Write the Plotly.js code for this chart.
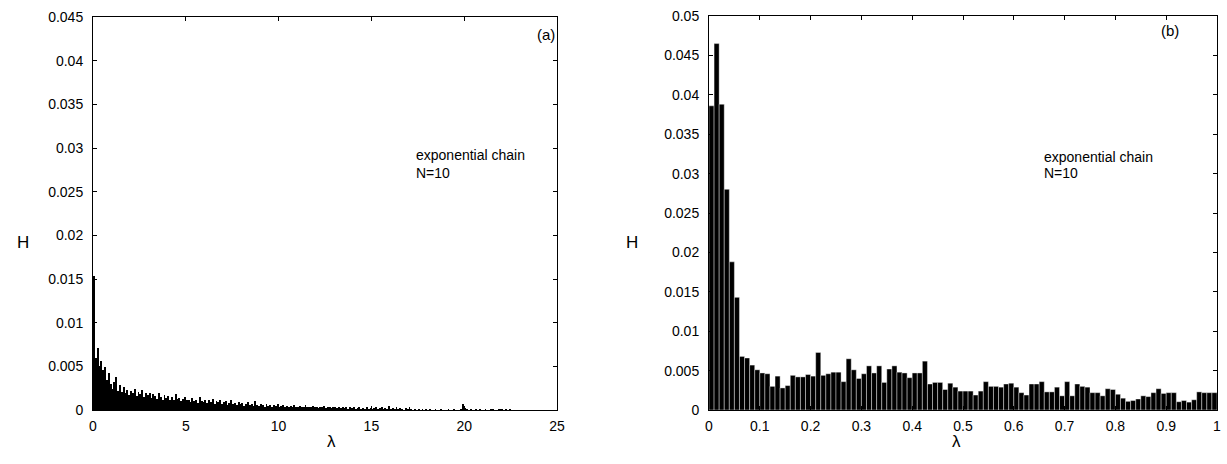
<!DOCTYPE html>
<html><head><meta charset="utf-8">
<script src="https://cdn.plot.ly/plotly-3.0.1.min.js"></script>
<style>html,body{margin:0;padding:0;background:#fff}#chart{width:1227px;height:464px}</style>
</head><body><div id="chart"></div>
<script>
// Panel (a): histogram of lambda, bins of 0.1 starting at 0
const binStartA = 0.05;
const binWidthA = 0.1;
const hA = [
0.0153,0.0059,0.0071,0.0050,0.0056,0.0046,0.0049,0.0034,0.0042,0.0030,
0.0024,0.0032,0.0038,0.0022,0.0029,0.0021,0.0026,0.0020,0.0023,0.0017,
0.0022,0.0019,0.0024,0.0016,0.0021,0.0018,0.0023,0.0015,0.0019,0.0017,
0.0020,0.0014,0.0018,0.0016,0.0013,0.0019,0.0015,0.0012,0.0017,0.0014,
0.0016,0.0012,0.0015,0.0011,0.0018,0.0013,0.0014,0.0010,0.0013,0.0015,
0.0011,0.0012,0.0009,0.0014,0.0010,0.0012,0.0008,0.0015,0.0010,0.0009,
0.0012,0.0008,0.0011,0.0009,0.0013,0.0007,0.0010,0.0009,0.0011,0.0007,
0.0009,0.0010,0.0006,0.0008,0.0012,0.0007,0.0008,0.0006,0.0009,0.0007,
0.0008,0.0005,0.0007,0.0009,0.0006,0.0007,0.0005,0.0010,0.0006,0.0005,
0.0007,0.0006,0.0004,0.0007,0.0005,0.0006,0.0004,0.0006,0.0005,0.0007,
0.0004,0.0005,0.0006,0.0004,0.0005,0.0003,0.0005,0.0004,0.0006,0.0003,
0.0004,0.0005,0.0003,0.0004,0.0006,0.0003,0.0004,0.0003,0.0005,0.0003,
0.0004,0.0002,0.0004,0.0003,0.0005,0.0002,0.0003,0.0004,0.0002,0.0003,
0.0004,0.0002,0.0003,0.0002,0.0004,0.0002,0.0003,0.0001,0.0003,0.0002,
0.0003,0.0001,0.0002,0.0003,0.0001,0.0002,0.0001,0.0003,0.0001,0.0002,
0.0001,0.0002,0.0004,0.0001,0.0002,0.0003,0.0001,0.0002,0.0001,0.0005,
0.0001,0.0002,0.0001,0.0003,0.0001,0.0002,0.0001,0.0000,0.0002,0.0001,
0.0003,0.0001,0.0000,0.0001,0.0000,0.0001,0.0000,0.0001,0.0000,0.0001,
0.0000,0.0001,0.0000,0.0000,0.0001,0.0000,0.0000,0.0001,0.0000,0.0000,
0.0000,0.0001,0.0000,0.0000,0.0001,0.0000,0.0000,0.0000,0.0001,0.0007,
0.0002,0.0001,0.0000,0.0001,0.0000,0.0000,0.0001,0.0000,0.0001,0.0000,
0.0000,0.0001,0.0000,0.0000,0.0001,0.0001,0.0000,0.0000,0.0001,0.0001,
0.0001,0.0000,0.0001,0.0000,0.0001
];
// Panel (b): histogram of lambda in [0,1], bins of 0.01
const binStartB = 0.005;
const binWidthB = 0.01;
const hB = [
0.0386,0.0465,0.0388,0.0280,0.0188,0.0143,0.0068,0.0066,0.0057,0.0051,
0.0047,0.0046,0.0030,0.0043,0.0028,0.0031,0.0044,0.0042,0.0042,0.0045,
0.0043,0.0073,0.0044,0.0046,0.0048,0.0048,0.0036,0.0065,0.0051,0.0040,
0.0046,0.0056,0.0047,0.0056,0.0035,0.0052,0.0056,0.0048,0.0047,0.0041,
0.0047,0.0047,0.0062,0.0033,0.0035,0.0035,0.0026,0.0034,0.0029,0.0024,
0.0024,0.0024,0.0019,0.0024,0.0036,0.0030,0.0030,0.0029,0.0033,0.0034,
0.0029,0.0022,0.0019,0.0033,0.0033,0.0036,0.0023,0.0023,0.0029,0.0018,
0.0036,0.0018,0.0033,0.0030,0.0029,0.0022,0.0022,0.0018,0.0027,0.0026,
0.0020,0.0015,0.0011,0.0012,0.0014,0.0018,0.0017,0.0022,0.0027,0.0021,
0.0022,0.0022,0.00105,0.0012,0.0010,0.0013,0.0023,0.0022,0.0022,0.0022
];
const xTickValsA = [0,5,10,15,20,25];
const yTickValsA = [0,0.005,0.01,0.015,0.02,0.025,0.03,0.035,0.04,0.045];
const xTickValsB = [0,0.1,0.2,0.3,0.4,0.5,0.6,0.7,0.8,0.9,1];
const xTickTextB = ['0','0.1','0.2','0.3','0.4','0.5','0.6','0.7','0.8','0.9','1'];
const yTickValsB = [0,0.005,0.01,0.015,0.02,0.025,0.03,0.035,0.04,0.045,0.05];
const labelSeries = 'exponential chain';
const labelN = 'N=10';

const W = 1227, Hh = 464;
const px = x => x / W;
const py = y => 1 - y / Hh;
const FONT = 'Liberation Sans, Arial, sans-serif';

const traces = [
  {type:'bar', y:hA, x0:binStartA, dx:binWidthA, xaxis:'x', yaxis:'y',
   marker:{color:'#000', line:{width:0}}, hoverinfo:'skip', showlegend:false},
  {type:'bar', y:hB, x0:binStartB, dx:binWidthB, xaxis:'x2', yaxis:'y2',
   marker:{color:'#000', line:{width:0.4, color:'#ffffff'}}, hoverinfo:'skip', showlegend:false}
];

const axBase = {
  showline:true, linecolor:'#000', linewidth:1, mirror:'ticks',
  ticks:'inside', ticklen:4, tickcolor:'#000', tickwidth:1,
  showgrid:false, zeroline:false,
  tickfont:{family:FONT, size:14, color:'#000'}
};

const layout = {
  width:W, height:Hh, margin:{l:0,r:0,t:0,b:0},
  paper_bgcolor:'#fff', plot_bgcolor:'#fff',
  bargap:0, font:{family:FONT, color:'#000'},
  xaxis: Object.assign({}, axBase, {domain:[px(93), px(557)], range:[0,25], tickvals:xTickValsA, anchor:'y', ticklabelstandoff:3}),
  yaxis: Object.assign({}, axBase, {domain:[py(410), py(17)], range:[0,0.045], tickvals:yTickValsA, anchor:'x', ticklabelstandoff:6}),
  xaxis2: Object.assign({}, axBase, {domain:[px(709), px(1217)], range:[0,1], tickvals:xTickValsB, ticktext:xTickTextB, anchor:'y2', ticklabelstandoff:3}),
  yaxis2: Object.assign({}, axBase, {domain:[py(410), py(16)], range:[0,0.05], tickvals:yTickValsB, anchor:'x2', ticklabelstandoff:6}),
  annotations: [
    {text:'H', x:px(15), y:py(242), xref:'paper', yref:'paper', showarrow:false, font:{family:FONT,size:17}},
    {text:'H', x:px(632), y:py(242), xref:'paper', yref:'paper', showarrow:false, font:{family:FONT,size:17}},
    {text:'λ', x:px(325), y:py(453), xref:'paper', yref:'paper', showarrow:false, font:{family:FONT,size:17}},
    {text:'λ', x:px(963), y:py(453), xref:'paper', yref:'paper', showarrow:false, font:{family:FONT,size:17}},
    {text:'(a)', x:px(546), y:py(24), xref:'paper', yref:'paper', showarrow:false, font:{family:FONT,size:15}},
    {text:'(b)', x:px(1181), y:py(20), xref:'paper', yref:'paper', showarrow:false, font:{family:FONT,size:15}},
    {text:labelSeries, x:px(414), y:py(145), xref:'paper', yref:'paper', xanchor:'left', showarrow:false, font:{family:FONT,size:14}},
    {text:labelN, x:px(414), y:py(173), xref:'paper', yref:'paper', xanchor:'left', showarrow:false, font:{family:FONT,size:14}},
    {text:labelSeries, x:px(1042), y:py(147), xref:'paper', yref:'paper', xanchor:'left', showarrow:false, font:{family:FONT,size:14}},
    {text:labelN, x:px(1042), y:py(173), xref:'paper', yref:'paper', xanchor:'left', showarrow:false, font:{family:FONT,size:14}}
  ]
};

Plotly.newPlot('chart', traces, layout, {staticPlot:true, displayModeBar:false});
</script>
</body></html>
